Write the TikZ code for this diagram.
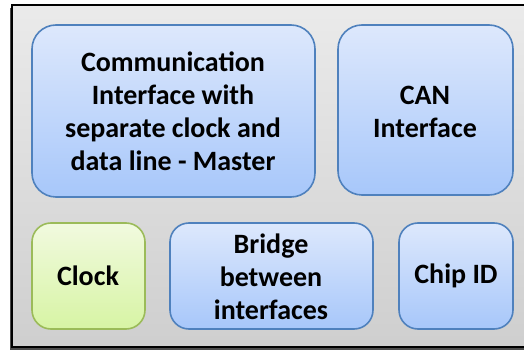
\documentclass[tikz,border=0pt]{standalone}
\usepackage{fontspec}
\setmainfont{Carlito}
\usetikzlibrary{shadows}
\definecolor{blueline}{HTML}{4F81BD}
\definecolor{bluetop}{HTML}{DDE8FC}
\definecolor{bluebot}{HTML}{A7C7FA}
\definecolor{greenline}{HTML}{9BBB59}
\definecolor{greentop}{HTML}{F1FADF}
\definecolor{greenbot}{HTML}{D7F4A4}
\tikzset{
  x=1pt,y=-1pt,
  block/.style={draw=blueline, line width=1.6pt, top color=bluetop, bottom color=bluebot,
    rounded corners=24pt},
  greenblock/.style={block, draw=greenline, top color=greentop, bottom color=greenbot},
  smallblock/.style={rounded corners=19pt},
  label/.style={font=\bfseries\fontsize{28}{33}\selectfont, align=center, text=black},
}
\begin{document}
\begin{tikzpicture}
\useasboundingbox (0,0) rectangle (524,352);
\fill[black!70] (10,8) rectangle (530,350);
\draw[line width=2pt, top color=black!8, bottom color=black!19] (12,5) rectangle (530,347);
\draw[block] (32,25) rectangle (315,197);
\node[label] (comm) at (173,111)
  {Communication\\Interface with\\separate clock and\\data line - Master};
\draw[block] (338,25) rectangle (513,195);
\node[label] (can) at (425,112) {CAN\\Interface};
\draw[greenblock, smallblock] (32,223) rectangle (145,329);
\node[label] (clock) at (88,276) {Clock};
\draw[block, smallblock] (170,223) rectangle (373,329);
\node[label] (bridge) at (271,277) {Bridge\\between\\interfaces};
\draw[block, smallblock] (399,223) rectangle (513,329);
\node[label] (chip) at (456,276) {Chip ID};
\end{tikzpicture}
\end{document}
